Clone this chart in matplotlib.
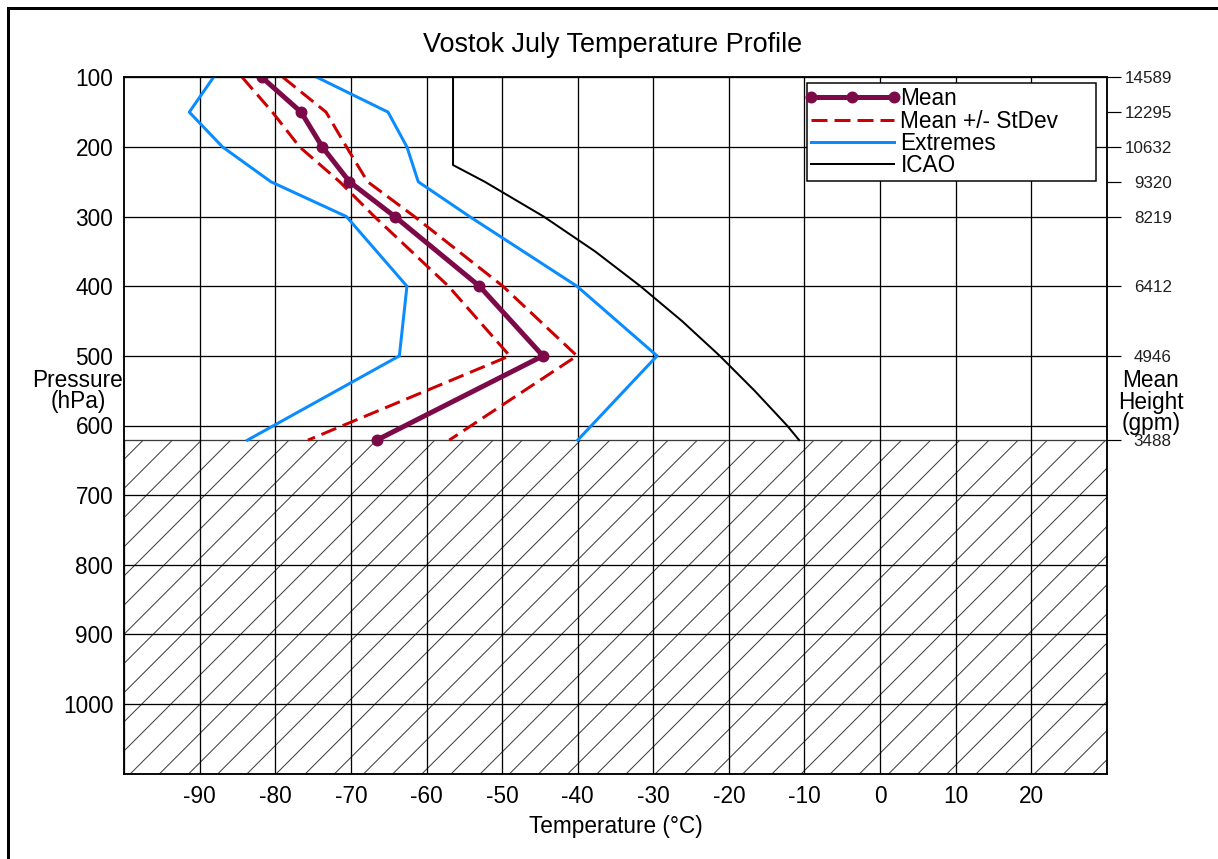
import matplotlib
matplotlib.use("Agg")
import matplotlib.pyplot as plt
from matplotlib.lines import Line2D
from matplotlib.legend_handler import HandlerLine2D

DPI = 175
W_PX, H_PX = 1218, 859
PT = 72.0 / DPI  # points per pixel

plt.rcParams['font.family'] = ['Liberation Sans', 'DejaVu Sans']
plt.rcParams['hatch.linewidth'] = 1.0 * PT
plt.rcParams['lines.scale_dashes'] = False
plt.rcParams['axes.unicode_minus'] = False

# ---- data ----
pressure = [100, 150, 200, 250, 300, 400, 500, 621]
mean_t = [-81.8, -76.6, -73.8, -70.2, -64.2, -53.0, -44.6, -66.6]
mean_plus_sd = [-79.0, -73.3, -70.6, -67.8, -61.6, -49.9, -40.1, -57.0]
mean_minus_sd = [-84.4, -80.4, -76.8, -71.5, -66.9, -57.1, -49.0, -75.7]
extreme_max = [-74.5, -65.1, -62.6, -61.1, -54.3, -40.1, -29.5, -40.0]
extreme_min = [-88.2, -91.4, -87.0, -80.6, -70.6, -62.6, -63.6, -83.7]

icao_pressure = [100, 226, 250, 300, 350, 400, 450, 500, 550, 600, 621]
icao_t = [-56.5, -56.5, -52.3, -44.5, -37.7, -31.7, -26.2, -21.2, -16.6, -12.3, -10.7]

height_pressure = [100, 150, 200, 250, 300, 400, 500, 621]
height_labels = ['14589', '12295', '10632', '9320', '8219', '6412', '4946', '3488']

surface_pressure = 621
pressure_ticks = [100, 200, 300, 400, 500, 600, 700, 800, 900, 1000]
temp_ticks = [-90, -80, -70, -60, -50, -40, -30, -20, -10, 0, 10, 20]

MAROON = '#7D0A48'
RED = '#CC0000'
BLUE = '#0A8CFF'
FS = 22.6 * PT

fig = plt.figure(figsize=(W_PX / DPI, H_PX / DPI), dpi=DPI)
fig.patch.set_facecolor('white')

def fx(px):
    return px / W_PX

def fy(px):
    return 1 - px / H_PX

ax_l, ax_r, ax_t, ax_b = 124.3, 1106.7, 77.3, 773.7
ax = fig.add_axes([fx(ax_l), fy(ax_b), fx(ax_r) - fx(ax_l), fy(ax_t) - fy(ax_b)])
ax.set_xlim(-100, 30)
ax.set_ylim(1100, 100)

# ground (below station surface pressure)
ax.axhspan(surface_pressure, 1100, facecolor='white', edgecolor='#3c3c3c',
           hatch='//', linewidth=1.3 * PT, zorder=1)

ax.set_xticks(temp_ticks)
ax.set_yticks(pressure_ticks)
ax.grid(True, color='black', linewidth=1.3 * PT)
ax.tick_params(axis='both', length=0, labelsize=FS, pad=11 * PT)
for sp in ax.spines.values():
    sp.set_linewidth(1.5 * PT)

# profiles
l_mean, = ax.plot(mean_t, pressure, color=MAROON, lw=5 * PT, marker='o',
                  ms=9.5 * PT, zorder=6)
l_sd, = ax.plot(mean_plus_sd, pressure, color=RED, lw=3 * PT,
                dashes=(16 * PT, 7 * PT), zorder=5)
ax.plot(mean_minus_sd, pressure, color=RED, lw=3 * PT,
        dashes=(16 * PT, 7 * PT), zorder=5)
l_ext, = ax.plot(extreme_max, pressure, color=BLUE, lw=3 * PT, zorder=4)
ax.plot(extreme_min, pressure, color=BLUE, lw=3 * PT, zorder=4)
l_icao, = ax.plot(icao_t, icao_pressure, color='black', lw=2 * PT, zorder=3)

ax.set_xlabel('Temperature (\u00b0C)', fontsize=FS)
ax.xaxis.set_label_coords(0.5, -0.059)

# right-hand mean geopotential height axis
ax2 = ax.twinx()
ax2.set_ylim(1100, 100)
ax2.set_yticks(height_pressure)
ax2.set_yticklabels(height_labels)
ax2.tick_params(axis='y', direction='out', length=14 * PT, width=1.2 * PT,
                pad=51 * PT, labelsize=17 * PT, labelcolor='#202020')
for lab in ax2.get_yticklabels():
    lab.set_horizontalalignment('right')
for sp in ax2.spines.values():
    sp.set_linewidth(1.5 * PT)

leg_x0, leg_y0, leg_x1, leg_y1 = 806.7, 83.3, 1095.7, 175.7
handler = HandlerLine2D(marker_pad=0.0)
leg = ax2.legend([l_mean, l_sd, l_ext, l_icao],
                 ['Mean', 'Mean +/- StDev', 'Extremes', 'ICAO'],
                 loc='upper left',
                 bbox_to_anchor=(fx(leg_x0), fy(leg_y1), fx(leg_x1) - fx(leg_x0),
                                 fy(leg_y0) - fy(leg_y1)),
                 bbox_transform=fig.transFigure, mode='expand',
                 borderaxespad=0, borderpad=0.18, labelspacing=-0.03,
                 handlelength=3.67, handletextpad=0.3, numpoints=3,
                 handler_map={l_mean: handler, l_sd: handler,
                              l_ext: handler, l_icao: handler},
                 fontsize=FS, frameon=True, fancybox=False, framealpha=1,
                 edgecolor='black')
leg.get_frame().set_linewidth(1.5 * PT)

fig.text(fx(613), fy(45), 'Vostok July Temperature Profile', fontsize=27 * PT,
         ha='center', va='center')
fig.text(fx(78), fy(391), 'Pressure\n(hPa)', fontsize=FS, ha='center',
         va='center', linespacing=0.9)
fig.text(fx(1151), fy(402), 'Mean\nHeight\n(gpm)', fontsize=FS, ha='center',
         va='center', linespacing=0.92)

# page frame
fig.add_artist(Line2D([fx(8), 1], [fy(8), fy(8)], transform=fig.transFigure,
                      color='black', lw=3 * PT))
fig.add_artist(Line2D([fx(8), fx(8)], [0, fy(8)], transform=fig.transFigure,
                      color='black', lw=3 * PT))

fig.savefig('out.png', dpi=DPI)
